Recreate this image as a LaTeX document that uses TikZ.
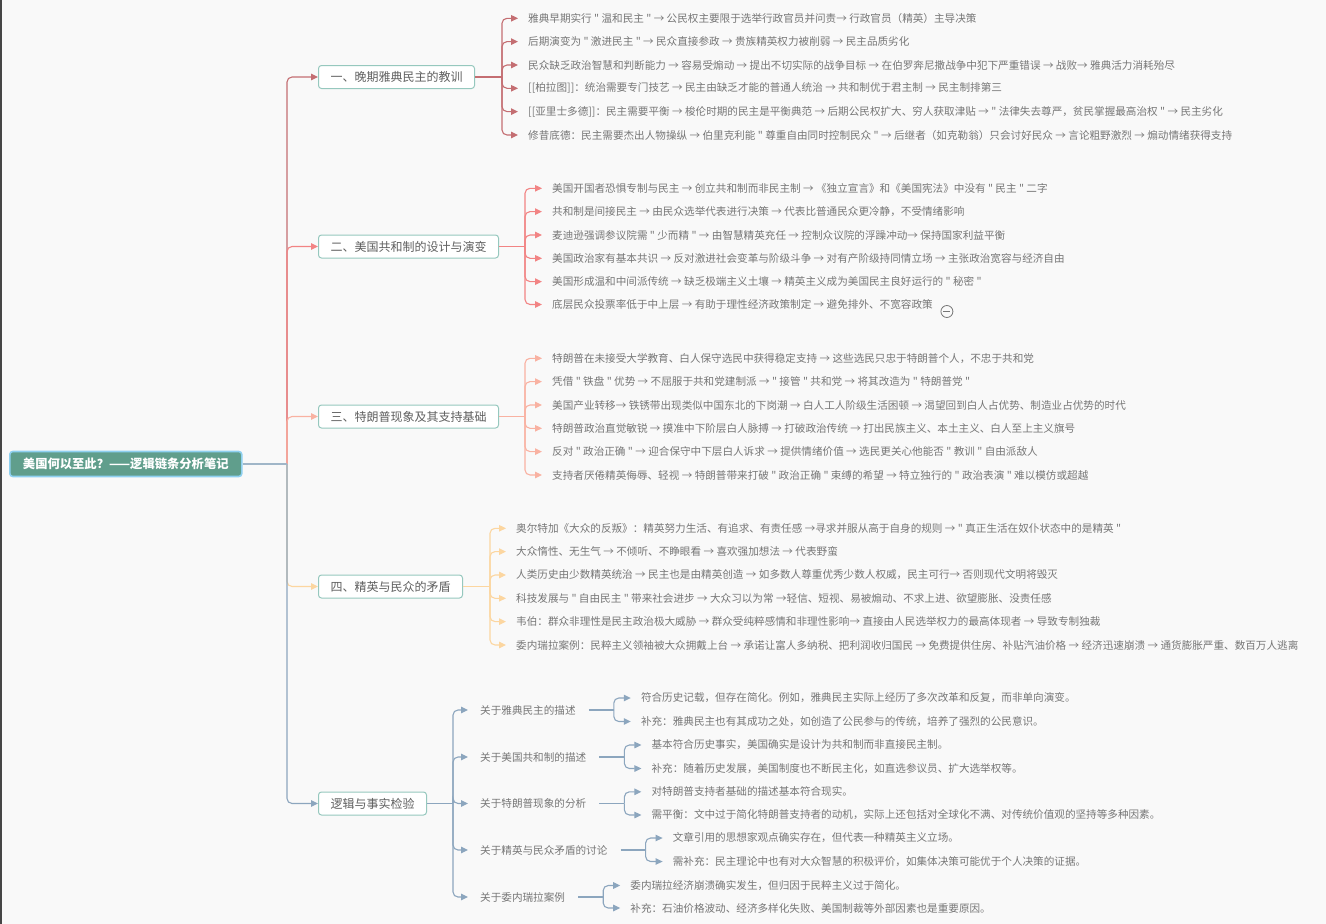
\documentclass[tikz,border=0pt]{standalone}
\usepackage{fontspec}
\setmainfont{Noto Sans CJK SC}
\newfontfamily\cjk{Noto Sans CJK SC}
\usetikzlibrary{arrows.meta,calc}

\definecolor{pagebg}{RGB}{249,249,249}
\definecolor{edgedark}{RGB}{70,70,70}
\definecolor{rootfill}{RGB}{96,158,140}
\definecolor{rootedge}{RGB}{142,208,240}
\definecolor{sectedge}{RGB}{150,200,190}
\definecolor{secttext}{RGB}{95,95,95}
\definecolor{leaftext}{RGB}{118,118,118}
\definecolor{cone}{RGB}{196,110,114}
\definecolor{ctwo}{RGB}{242,132,132}
\definecolor{cthree}{RGB}{249,178,162}
\definecolor{cfour}{RGB}{252,214,160}
\definecolor{cfive}{RGB}{140,166,190}
\definecolor{trunk}{RGB}{160,182,200}

\tikzset{
  link/.style={line width=1.1pt, rounded corners=5pt, -{Triangle[length=7pt,width=6.5pt]}},
  plain/.style={line width=1.1pt},
  rootbox/.style={draw=rootedge, line width=1.6pt, fill=rootfill, rounded corners=3pt,
    text=white, font=\cjk\bfseries\fontsize{12.3}{14}\selectfont,
    minimum height=25pt, minimum width=232pt, inner xsep=12pt, inner ysep=0pt, anchor=west},
  sectbox/.style={draw=sectedge, line width=1pt, fill=white, rounded corners=3pt,
    text=secttext, font=\cjk\fontsize{12}{14}\selectfont,
    minimum height=23pt, inner xsep=12pt, inner ysep=0pt, anchor=west},
  leaf/.style={anchor=west, inner sep=0pt, text=leaftext, font=\cjk\fontsize{10.6}{12}\selectfont},
}

\begin{document}
\begin{tikzpicture}[x=1pt,y=-1pt]
\fill[pagebg] (0,0) rectangle (1326,924);
\useasboundingbox (0,0) rectangle (1326,924);
\fill[edgedark] (0,0) rectangle (2,924);

% ---------- root ----------
\node[rootbox] (root) at (9,464) {美国何以至此？——逻辑链条分析笔记};
\coordinate (tr) at (287,464);

% ---------- sections ----------
\node[sectbox] (s1) at (318,77) {一、晚期雅典民主的教训};
\node[sectbox] (s2) at (318,246.5) {二、美国共和制的设计与演变};
\node[sectbox] (s3) at (318,416.5) {三、特朗普现象及其支持基础};
\node[sectbox] (s4) at (318,586.5) {四、精英与民众的矛盾};
\node[sectbox] (s5) at (318,803.5) {逻辑与事实检验};

\draw[link,cone]   (tr) |- (s1.west);
\draw[link,ctwo]   (tr) |- (s2.west);
\draw[link,cthree] (tr) |- (s3.west);
\draw[link,cfour]  (tr) |- (s4.west);
\draw[link,cfive]  (tr) |- (s5.west);
\draw[plain,trunk] (root.east) -- (tr);

% ---------- section 1 ----------
\coordinate (k1) at (502,77);
\node[leaf] (p1) at (528,18.3)  {雅典早期实行 " 温和民主 " → 公民权主要限于选举行政官员并问责→ 行政官员（精英）主导决策};
\node[leaf] (p2) at (528,41.6)  {后期演变为 " 激进民主 " → 民众直接参政 → 贵族精英权力被削弱 → 民主品质劣化};
\node[leaf] (p3) at (528,65)    {民众缺乏政治智慧和判断能力 → 容易受煽动 → 提出不切实际的战争目标 → 在伯罗奔尼撒战争中犯下严重错误 → 战败→ 雅典活力消耗殆尽};
\node[leaf] (p4) at (528,88.3)  {[[柏拉图]]：统治需要专门技艺 → 民主由缺乏才能的普通人统治 → 共和制优于君主制 → 民主制排第三};
\node[leaf] (p5) at (528,111.6) {[[亚里士多德]]：民主需要平衡 → 梭伦时期的民主是平衡典范 → 后期公民权扩大、穷人获取津贴 → " 法律失去尊严，贫民掌握最高治权 " → 民主劣化};
\node[leaf] (p6) at (528,135)   {修昔底德：民主需要杰出人物操纵 → 伯里克利能 " 尊重自由同时控制民众 " → 后继者（如克勒翁）只会讨好民众 → 言论粗野激烈 → 煽动情绪获得支持};
\draw[plain,cone] (s1.east) -- (k1);
\foreach \i in {1,...,6} \draw[link,cone] (k1) |- ([xshift=-10pt]p\i.west);

% ---------- section 2 ----------
\coordinate (k2) at (525,246.5);
\node[leaf] (q1) at (552,188.3) {美国开国者恐惧专制与民主 → 创立共和制而非民主制 → 《独立宣言》和《美国宪法》中没有 " 民主 " 二字};
\node[leaf] (q2) at (552,211.6) {共和制是间接民主 → 由民众选举代表进行决策 → 代表比普通民众更冷静，不受情绪影响};
\node[leaf] (q3) at (552,235)   {麦迪逊强调参议院需 " 少而精 " → 由智慧精英充任 → 控制众议院的浮躁冲动→ 保持国家利益平衡};
\node[leaf] (q4) at (552,258.3) {美国政治家有基本共识 → 反对激进社会变革与阶级斗争 → 对有产阶级持同情立场 → 主张政治宽容与经济自由};
\node[leaf] (q5) at (552,281.6) {美国形成温和中间派传统 → 缺乏极端主义土壤 → 精英主义成为美国民主良好运行的 " 秘密 "};
\node[leaf] (q6) at (552,304.5) {底层民众投票率低于中上层 → 有助于理性经济政策制定 → 避免排外、不宽容政策};
\draw[plain,ctwo] (s2.east) -- (k2);
\foreach \i in {1,...,6} \draw[link,ctwo] (k2) |- ([xshift=-10pt]q\i.west);
% collapse marker
\node[circle, draw=leaftext, line width=0.8pt, minimum size=12pt, inner sep=0pt] (fold) at ($(q6.east)+(14,7)$) {};
\draw[leaftext, line width=0.8pt] ($(fold.center)+(-3.5,0)$) -- ($(fold.center)+(3.5,0)$);

% ---------- section 3 ----------
\coordinate (k3) at (525,416.5);
\node[leaf] (r1) at (552,358.3) {特朗普在未接受大学教育、白人保守选民中获得稳定支持 → 这些选民只忠于特朗普个人，不忠于共和党};
\node[leaf] (r2) at (552,381.6) {凭借 " 铁盘 " 优势 → 不屈服于共和党建制派 → " 接管 " 共和党 → 将其改造为 " 特朗普党 "};
\node[leaf] (r3) at (552,405)   {美国产业转移→ 铁锈带出现类似中国东北的下岗潮 → 白人工人阶级生活困顿 → 渴望回到白人占优势、制造业占优势的时代};
\node[leaf] (r4) at (552,428.3) {特朗普政治直觉敏锐 → 摸准中下阶层白人脉搏 → 打破政治传统 → 打出民族主义、本土主义、白人至上主义旗号};
\node[leaf] (r5) at (552,451.6) {反对 " 政治正确 " → 迎合保守中下层白人诉求 → 提供情绪价值 → 选民更关心他能否 " 教训 " 自由派敌人};
\node[leaf] (r6) at (552,475)   {支持者厌倦精英侮辱、轻视 → 特朗普带来打破 " 政治正确 " 束缚的希望 → 特立独行的 " 政治表演 " 难以模仿或超越};
\draw[plain,cthree] (s3.east) -- (k3);
\foreach \i in {1,...,6} \draw[link,cthree] (k3) |- ([xshift=-10pt]r\i.west);

% ---------- section 4 ----------
\coordinate (k4) at (490,586.5);
\node[leaf] (t1) at (516,528.3) {奥尔特加《大众的反叛》：精英努力生活、有追求、有责任感 →寻求并服从高于自身的规则 → " 真正生活在奴仆状态中的是精英 "};
\node[leaf] (t2) at (516,551.6) {大众惰性、无生气 → 不倾听、不睁眼看 → 喜欢强加想法 → 代表野蛮};
\node[leaf] (t3) at (516,575)   {人类历史由少数精英统治 → 民主也是由精英创造 → 如多数人尊重优秀少数人权威，民主可行→ 否则现代文明将毁灭};
\node[leaf] (t4) at (516,598.3) {科技发展与 " 自由民主 " 带来社会进步 → 大众习以为常 →轻信、短视、易被煽动、不求上进、欲望膨胀、没责任感};
\node[leaf] (t5) at (516,621.6) {韦伯：群众非理性是民主政治极大威胁 → 群众受纯粹感情和非理性影响→ 直接由人民选举权力的最高体现者 → 导致专制独裁};
\node[leaf] (t6) at (516,645)   {委内瑞拉案例：民粹主义领袖被大众拥戴上台 → 承诺让富人多纳税、把利润收归国民 → 免费提供住房、补贴汽油价格 → 经济迅速崩溃 → 通货膨胀严重、数百万人逃离};
\draw[plain,cfour] (s4.east) -- (k4);
\foreach \i in {1,...,6} \draw[link,cfour] (k4) |- ([xshift=-10pt]t\i.west);

% ---------- section 5 ----------
\coordinate (k5) at (453,803.5);
\node[leaf] (u1) at (480,710)   {关于雅典民主的描述};
\node[leaf] (u2) at (480,757)   {关于美国共和制的描述};
\node[leaf] (u3) at (480,803.5) {关于特朗普现象的分析};
\node[leaf] (u4) at (480,850)   {关于精英与民众矛盾的讨论};
\node[leaf] (u5) at (480,897)   {关于委内瑞拉案例};
\draw[plain,cfive] (s5.east) -- (k5);
\foreach \i in {1,...,5} \draw[link,cfive] (k5) |- ([xshift=-12pt]u\i.west);

% second-level brackets under section 5
\foreach \i in {1,...,5} {
  \coordinate (m\i) at ($(u\i.east)+(38,0)$);
  \draw[plain,cfive] ($(u\i.east)+(13,0)$) -- (m\i);
}
\node[leaf] (va1) at ($(m1)+(27,-12)$)   {符合历史记载，但存在简化。例如，雅典民主实际上经历了多次改革和反复，而非单向演变。};
\node[leaf] (va2) at ($(m1)+(27,11.5)$)  {补充：雅典民主也有其成功之处，如创造了公民参与的传统，培养了强烈的公民意识。};
\node[leaf] (vb1) at ($(m2)+(27,-12)$)   {基本符合历史事实，美国确实是设计为共和制而非直接民主制。};
\node[leaf] (vb2) at ($(m2)+(27,11.5)$)  {补充：随着历史发展，美国制度也不断民主化，如直选参议员、扩大选举权等。};
\node[leaf] (vc1) at ($(m3)+(27,-11.7)$) {对特朗普支持者基础的描述基本符合现实。};
\node[leaf] (vc2) at ($(m3)+(27,11.5)$)  {需平衡：文中过于简化特朗普支持者的动机，实际上还包括对全球化不满、对传统价值观的坚持等多种因素。};
\node[leaf] (vd1) at ($(m4)+(27,-12)$)   {文章引用的思想家观点确实存在，但代表一种精英主义立场。};
\node[leaf] (vd2) at ($(m4)+(27,11.5)$)  {需补充：民主理论中也有对大众智慧的积极评价，如集体决策可能优于个人决策的证据。};
\node[leaf] (ve1) at ($(m5)+(27,-11.5)$) {委内瑞拉经济崩溃确实发生，但归因于民粹主义过于简化。};
\node[leaf] (ve2) at ($(m5)+(27,11)$)    {补充：石油价格波动、经济多样化失败、美国制裁等外部因素也是重要原因。};
\foreach \a/\b in {1/a,2/b,3/c,4/d,5/e} {
  \draw[link,cfive] (m\a) |- ([xshift=-10pt]v\b1.west);
  \draw[link,cfive] (m\a) |- ([xshift=-10pt]v\b2.west);
}
\end{tikzpicture}
\end{document}
